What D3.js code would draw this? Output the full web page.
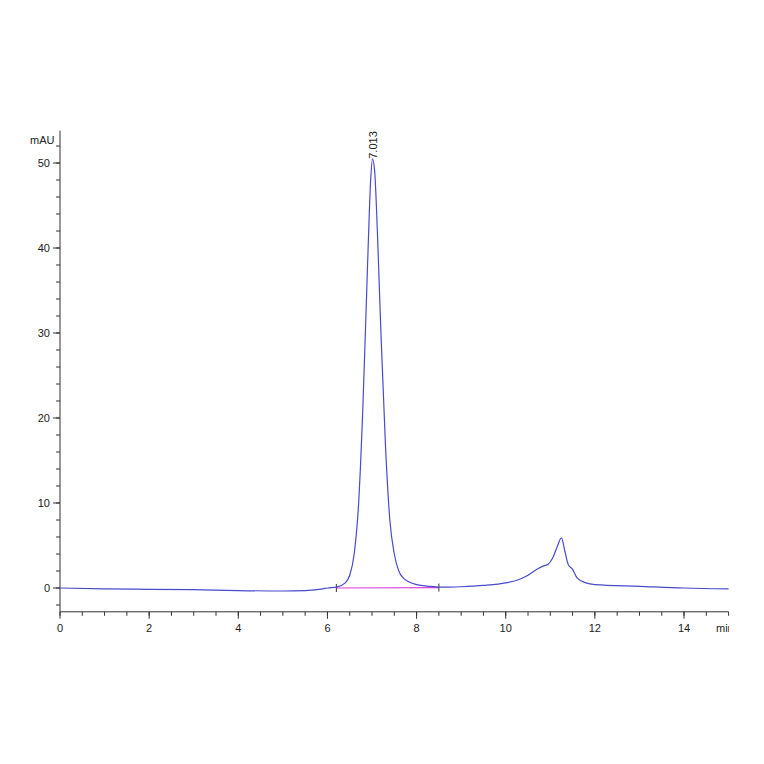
<!DOCTYPE html><html><head><script src="https://cdn.jsdelivr.net/npm/d3@7"></script>
<style>body{margin:0;background:#fff}text{font-family:"Liberation Sans",Arial,sans-serif;font-size:11px;fill:#222}</style></head><body><svg id="c" width="764" height="764"></svg><script>
const times=[0,1,2,3,4,5,5.5,5.9,6.0,6.2,6.4,6.5,6.6,6.7,6.8,6.9,6.97,7.01,7.06,7.12,7.2,7.3,7.4,7.5,7.6,7.7,7.8,8.0,8.3,8.6,9,9.5,10,10.3,10.5,10.7,10.85,10.95,11.05,11.15,11.25,11.32,11.4,11.5,11.6,11.8,12,13,14,15];
const values=[0,-0.1,-0.15,-0.2,-0.3,-0.35,-0.3,-0.1,0,0.1,0.6,1.5,4,10,22,38,48,50.5,49,42,30,17,8,4,2,1.2,0.8,0.4,0.2,0.1,0.15,0.3,0.6,1.0,1.5,2.2,2.6,2.8,3.5,4.8,5.9,4.5,2.8,2.2,1.2,0.6,0.4,0.2,0,-0.1];
const xTicks=[0,2,4,6,8,10,12,14];
const yTicks=[0,10,20,30,40,50];
const peakLabel={t:7.013,text:"7.013"};
const baseline=[[6.2,0],[8.5,0.05]];
const svg=d3.select("#c");
const x=d3.scaleLinear().domain([0,15]).range([60,728.6]);
const y=d3.scaleLinear().domain([0,50]).range([588,163]);
const yMin=-2.8,yMax=53.8;
// y axis
const ya=svg.append("g").attr("transform","translate(60,0)");
ya.append("line").attr("y1",y(yMax)).attr("y2",y(yMin)).attr("stroke","#333");
ya.selectAll(".mi").data(d3.range(-2,54,2)).join("line").attr("x1",-4).attr("x2",0).attr("y1",d=>y(d)).attr("y2",d=>y(d)).attr("stroke","#333");
ya.selectAll(".ma").data(yTicks).join("line").attr("x1",-7).attr("x2",0).attr("y1",d=>y(d)).attr("y2",d=>y(d)).attr("stroke","#333");
ya.selectAll("text").data(yTicks).join("text").attr("x",-10).attr("y",d=>y(d)+4).attr("text-anchor","end").text(d=>d);
svg.append("text").attr("x",30).attr("y",144).text("mAU");
// x axis
const xa=svg.append("g").attr("transform",`translate(0,${y(yMin)})`);
xa.append("line").attr("x1",x(0)).attr("x2",x(15)).attr("stroke","#333");
xa.selectAll(".mi").data(d3.range(0,15.01,0.5)).join("line").attr("x1",d=>x(d)).attr("x2",d=>x(d)).attr("y1",0).attr("y2",4).attr("stroke","#333");
xa.selectAll(".ma").data(xTicks).join("line").attr("x1",d=>x(d)).attr("x2",d=>x(d)).attr("y1",0).attr("y2",7).attr("stroke","#333");
xa.selectAll("text").data(xTicks).join("text").attr("x",d=>x(d)).attr("y",20).attr("text-anchor","middle").text(d=>d);
svg.append("text").attr("x",716).attr("y",y(yMin)+20).text("min");
svg.append("rect").attr("x",729).attr("y",600).attr("width",40).attr("height",40).attr("fill","#fff");
// baseline
svg.append("line").attr("x1",x(baseline[0][0])).attr("x2",x(baseline[1][0])).attr("y1",y(baseline[0][1])).attr("y2",y(baseline[1][1])).attr("stroke","#e040e0").attr("stroke-width",1.2);
baseline.forEach(b=>svg.append("line").attr("x1",x(b[0])).attr("x2",x(b[0])).attr("y1",y(b[1])-4).attr("y2",y(b[1])+4).attr("stroke","#333"));
// trace
const pts=times.map((t,i)=>[t,values[i]]);
svg.append("path").datum(pts).attr("d",d3.line().x(d=>x(d[0])).y(d=>y(d[1])).curve(d3.curveMonotoneX)).attr("fill","none").attr("stroke","#4a4acc").attr("stroke-width",1.2);
svg.append("text").attr("transform",`translate(${x(peakLabel.t)+4},${y(50.5)}) rotate(-90)`).text(peakLabel.text);
</script></body></html>
